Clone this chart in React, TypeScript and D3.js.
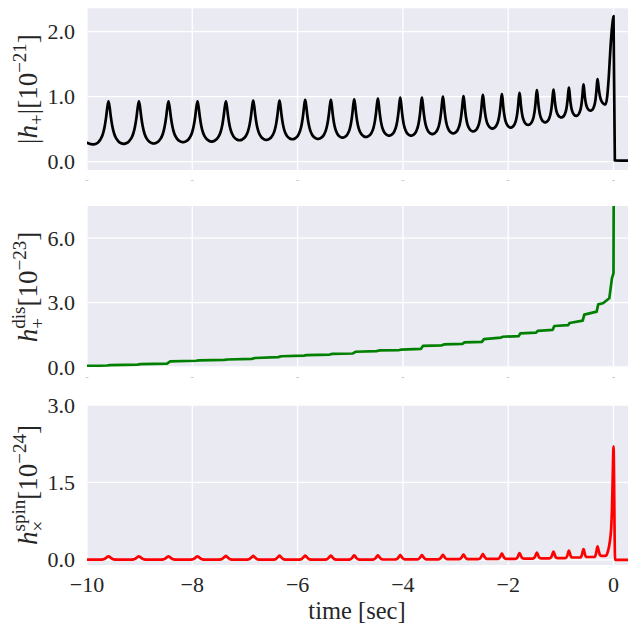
import React from 'react';
import * as d3 from 'd3';

// ---------- data ----------
const xTicks = [-10, -8, -6, -4, -2, 0];
const ampTicks = [0, 1, 2];
const disTicks = [0, 3, 6];
const spinTicks = [0, 1.5, 3];

// times of the periastron passages (peaks)
const peakTimes = [-9.592, -9.014, -8.452, -7.901, -7.362, -6.843, -6.344, -5.856, -5.368, -4.925,
  -4.475, -4.05, -3.639, -3.24, -2.849, -2.481, -2.12, -1.785, -1.455, -1.14, -0.847, -0.57, -0.304];

// |h+| panel
const ampPeaks = [0.93, 0.93, 0.93, 0.93, 0.93, 0.94, 0.94, 0.95, 0.95, 0.96, 0.97, 0.985, 0.985,
  1.0, 1.01, 1.03, 1.04, 1.06, 1.1, 1.11, 1.14, 1.19, 1.27];
const ampTroughs = [0.275, 0.28, 0.3, 0.31, 0.33, 0.335, 0.345, 0.35, 0.37, 0.38, 0.4, 0.4, 0.425,
  0.435, 0.465, 0.51, 0.525, 0.565, 0.605, 0.68, 0.705, 0.785, 0.88];
const ampStart: [number, number][] = [[-10, 0.29]];
const ampFirstTrough = 0.265;
const ampMerger: [number, number][] = [[-0.12, 1.0], [-0.09, 1.3], [-0.06, 1.72], [-0.03, 2.05], [0, 2.24], [0.025, 0.02], [0.3, 0.015]];
// pulse shape of one cycle (fraction of the peak spacing -> fraction of peak height)
const pulsePhase = [0, 0.04, 0.08, 0.13, 0.19, 0.26, 0.33, 0.4, 0.46, 0.5];
const pulseLevel = [1, 0.85, 0.62, 0.4, 0.23, 0.12, 0.055, 0.02, 0.004, 0];

// h_dis panel (memory)
const disTimes = [-10, -9.62, -9.56, -9.04, -8.98, -8.48, -8.42, -7.93, -7.87, -7.39, -7.33, -6.87, -6.81,
  -6.37, -6.31, -5.88, -5.83, -5.39, -5.34, -4.95, -4.9, -4.5, -4.45, -4.07, -4.03, -3.66, -3.62,
  -3.26, -3.22, -2.87, -2.83, -2.5, -2.46, -2.14, -2.1, -1.8, -1.77, -1.47, -1.44, -1.155, -1.125,
  -0.86, -0.835, -0.585, -0.555, -0.32, -0.29, -0.2, -0.08, -0.03, 0.0, 0.008, 0.3];
const disValues = [0.05, 0.07, 0.09, 0.11, 0.13, 0.16, 0.26, 0.29, 0.31, 0.33, 0.35, 0.38, 0.42,
  0.46, 0.5, 0.53, 0.55, 0.58, 0.61, 0.63, 0.71, 0.74, 0.77, 0.79, 0.81, 0.84, 0.98,
  1.01, 1.05, 1.08, 1.15, 1.17, 1.3, 1.37, 1.41, 1.44, 1.57, 1.6, 1.68, 1.73, 1.91,
  1.95, 2.05, 2.16, 2.44, 2.58, 2.92, 2.97, 3.2, 4.13, 4.37, 12, 12];

// h_spin panel
const spinPeaks = [0.07, 0.07, 0.07, 0.07, 0.075, 0.075, 0.08, 0.08, 0.08, 0.085, 0.085, 0.09, 0.09,
  0.095, 0.1, 0.11, 0.12, 0.13, 0.14, 0.16, 0.18, 0.21, 0.26];
const spinTroughs = [0.005, 0.005, 0.005, 0.005, 0.005, 0.005, 0.005, 0.005, 0.005, 0.005, 0.007, 0.008,
  0.01, 0.012, 0.015, 0.018, 0.02, 0.025, 0.03, 0.035, 0.045, 0.055, 0.075];
const spinStart: [number, number][] = [[-10, 0.005]];
const spinFirstTrough = 0.005;
const spinMerger: [number, number][] = [[-0.11, 0.15], [-0.07, 0.35], [-0.045, 0.6], [-0.03, 0.95], [-0.015, 1.6], [0, 2.2], [0.03, 0.0], [0.3, 0.0]];
const bumpPhase = [0, 0.04, 0.08, 0.13, 0.18, 0.25, 0.5];
const bumpLevel = [1, 0.8, 0.5, 0.2, 0.05, 0, 0];

// ---------- helpers ----------
function pulseTrain(peaks: number[], heights: number[], troughs: number[], firstTrough: number,
  phase: number[], level: number[], mergerTime: number): [number, number][] {
  const pts: [number, number][] = [];
  const n = peaks.length;
  const m = phase.length;
  for (let i = 0; i < n; i++) {
    const p = peaks[i];
    const h = heights[i];
    const prevGap = i > 0 ? p - peaks[i - 1] : peaks[1] - peaks[0];
    const nextGap = i < n - 1 ? peaks[i + 1] - p : mergerTime - p;
    const prevT = i > 0 ? troughs[i - 1] : firstTrough;
    const nextT = troughs[i];
    const startK = i === 0 ? m - 1 : m - 2;
    for (let k = startK; k >= 1; k--) pts.push([p - phase[k] * prevGap, prevT + (h - prevT) * level[k]]);
    pts.push([p, h]);
    for (let k = 1; k < m; k++) pts.push([p + phase[k] * nextGap, nextT + (h - nextT) * level[k]]);
  }
  return pts;
}

const W = 628, H = 626;
const X0 = 87, X1 = 629.3;
const FONT = "'Liberation Serif', 'Times New Roman', serif";
const TXT = '#262626';
const BG = '#EAEAF2';

const fmt = (v: number) => (v < 0 ? '\u2212' : '') + Math.abs(v).toString();

export default function App() {
  const x = d3.scaleLinear().domain([-10, 0.3]).range([X0, X1]);
  const panels = [
    {
      id: 'p1', y: d3.scaleLinear().domain([-0.128, 2.36]).range([170, 8.3]), ticks: ampTicks,
      fmt: (v: number) => v.toFixed(1), color: '#000000',
      data: [...ampStart, ...pulseTrain(peakTimes, ampPeaks, ampTroughs, ampFirstTrough, pulsePhase, pulseLevel, 0), ...ampMerger],
      curve: d3.curveMonotoneX, showX: false,
    },
    {
      id: 'p2', y: d3.scaleLinear().domain([0, 7.5]).range([367, 206]), ticks: disTicks,
      fmt: (v: number) => v.toFixed(1), color: '#008000',
      data: disTimes.map((t, i) => [t, disValues[i]] as [number, number]),
      curve: d3.curveLinear, showX: false,
    },
    {
      id: 'p3', y: d3.scaleLinear().domain([-0.1, 3.0]).range([565, 405]), ticks: spinTicks,
      fmt: (v: number) => v.toFixed(1), color: '#ff0000',
      data: [...spinStart, ...pulseTrain(peakTimes, spinPeaks, spinTroughs, spinFirstTrough, bumpPhase, bumpLevel, 0), ...spinMerger],
      curve: d3.curveMonotoneX, showX: true,
    },
  ];

  return (
    <svg width={W} height={H} style={{ position: 'absolute', left: 0, top: 0, display: 'block', background: '#fff' }}>
      <defs>
        {panels.map((p) => {
          const [yb, yt] = p.y.range();
          return (
            <clipPath id={`clip-${p.id}`} key={p.id}>
              <rect x={X0} y={yt} width={X1 - X0} height={yb - yt} />
            </clipPath>
          );
        })}
      </defs>
      {panels.map((p) => {
        const [yb, yt] = p.y.range();
        const line = d3.line<[number, number]>().x((d) => x(d[0])).y((d) => p.y(d[1])).curve(p.curve);
        return (
          <g key={p.id}>
            <rect x={X0} y={yt} width={X1 - X0} height={yb - yt} fill={BG} />
            {xTicks.map((t) => (
              <line key={'gx' + t} x1={x(t)} x2={x(t)} y1={yt} y2={yb} stroke="#fff" strokeWidth={1.3} />
            ))}
            {p.ticks.map((t) => (
              <line key={'gy' + t} x1={X0} x2={X1} y1={p.y(t)} y2={p.y(t)} stroke="#fff" strokeWidth={1.3} />
            ))}
            <path d={line(p.data as [number, number][]) || ''} fill="none" stroke={p.color} strokeWidth={2.7}
              strokeLinejoin="round" strokeLinecap="round" clipPath={`url(#clip-${p.id})`} />
            {p.ticks.map((t) => (
              <text key={'ty' + t} x={75} y={p.y(t) + 7.5} textAnchor="end" fontFamily={FONT} fontSize={22} fill={TXT}>
                {p.fmt(t)}
              </text>
            ))}
            {!p.showX && xTicks.map((t) => (
              <rect key={'dash' + t} x={x(t) - 1.5} y={yb + 10} width={3} height={1} fill="#cfcfcf" />
            ))}
            {p.showX && xTicks.map((t) => (
              <text key={'tx' + t} x={x(t)} y={592} textAnchor="middle" fontFamily={FONT} fontSize={22} fill={TXT}>
                {fmt(t)}
              </text>
            ))}
          </g>
        );
      })}

      {/* y labels */}
      <text transform={`translate(37,89) rotate(-90)`} textAnchor="middle" fontFamily={FONT} fontSize={27} fill={TXT}>
        <tspan>|</tspan>
        <tspan fontStyle="italic">h</tspan>
        <tspan fontSize={19} dy={6}>+</tspan>
        <tspan dy={-6}>|[10</tspan>
        <tspan fontSize={19} dy={-11}>{'\u221221'}</tspan>
        <tspan dy={11}>]</tspan>
      </text>
      <text transform={`translate(37,287) rotate(-90)`} textAnchor="middle" fontFamily={FONT} fontSize={27} fill={TXT}>
        <tspan fontStyle="italic">h</tspan>
        <tspan fontSize={19} dy={7}>+</tspan>
        <tspan fontSize={19} dx={-10.7} dy={-19}>dis</tspan>
        <tspan dy={12}>[10</tspan>
        <tspan fontSize={19} dy={-11}>{'\u221223'}</tspan>
        <tspan dy={11}>]</tspan>
      </text>
      <text transform={`translate(37,485) rotate(-90)`} textAnchor="middle" fontFamily={FONT} fontSize={27} fill={TXT}>
        <tspan fontStyle="italic">h</tspan>
        <tspan fontSize={19} dy={7}>{'\u00d7'}</tspan>
        <tspan fontSize={19} dx={-10.7} dy={-19}>spin</tspan>
        <tspan dy={12}>[10</tspan>
        <tspan fontSize={19} dy={-11}>{'\u221224'}</tspan>
        <tspan dy={11}>]</tspan>
      </text>

      {/* x label */}
      <text x={357} y={619} textAnchor="middle" fontFamily={FONT} fontSize={24.5} fill={TXT}>time [sec]</text>
    </svg>
  );
}
